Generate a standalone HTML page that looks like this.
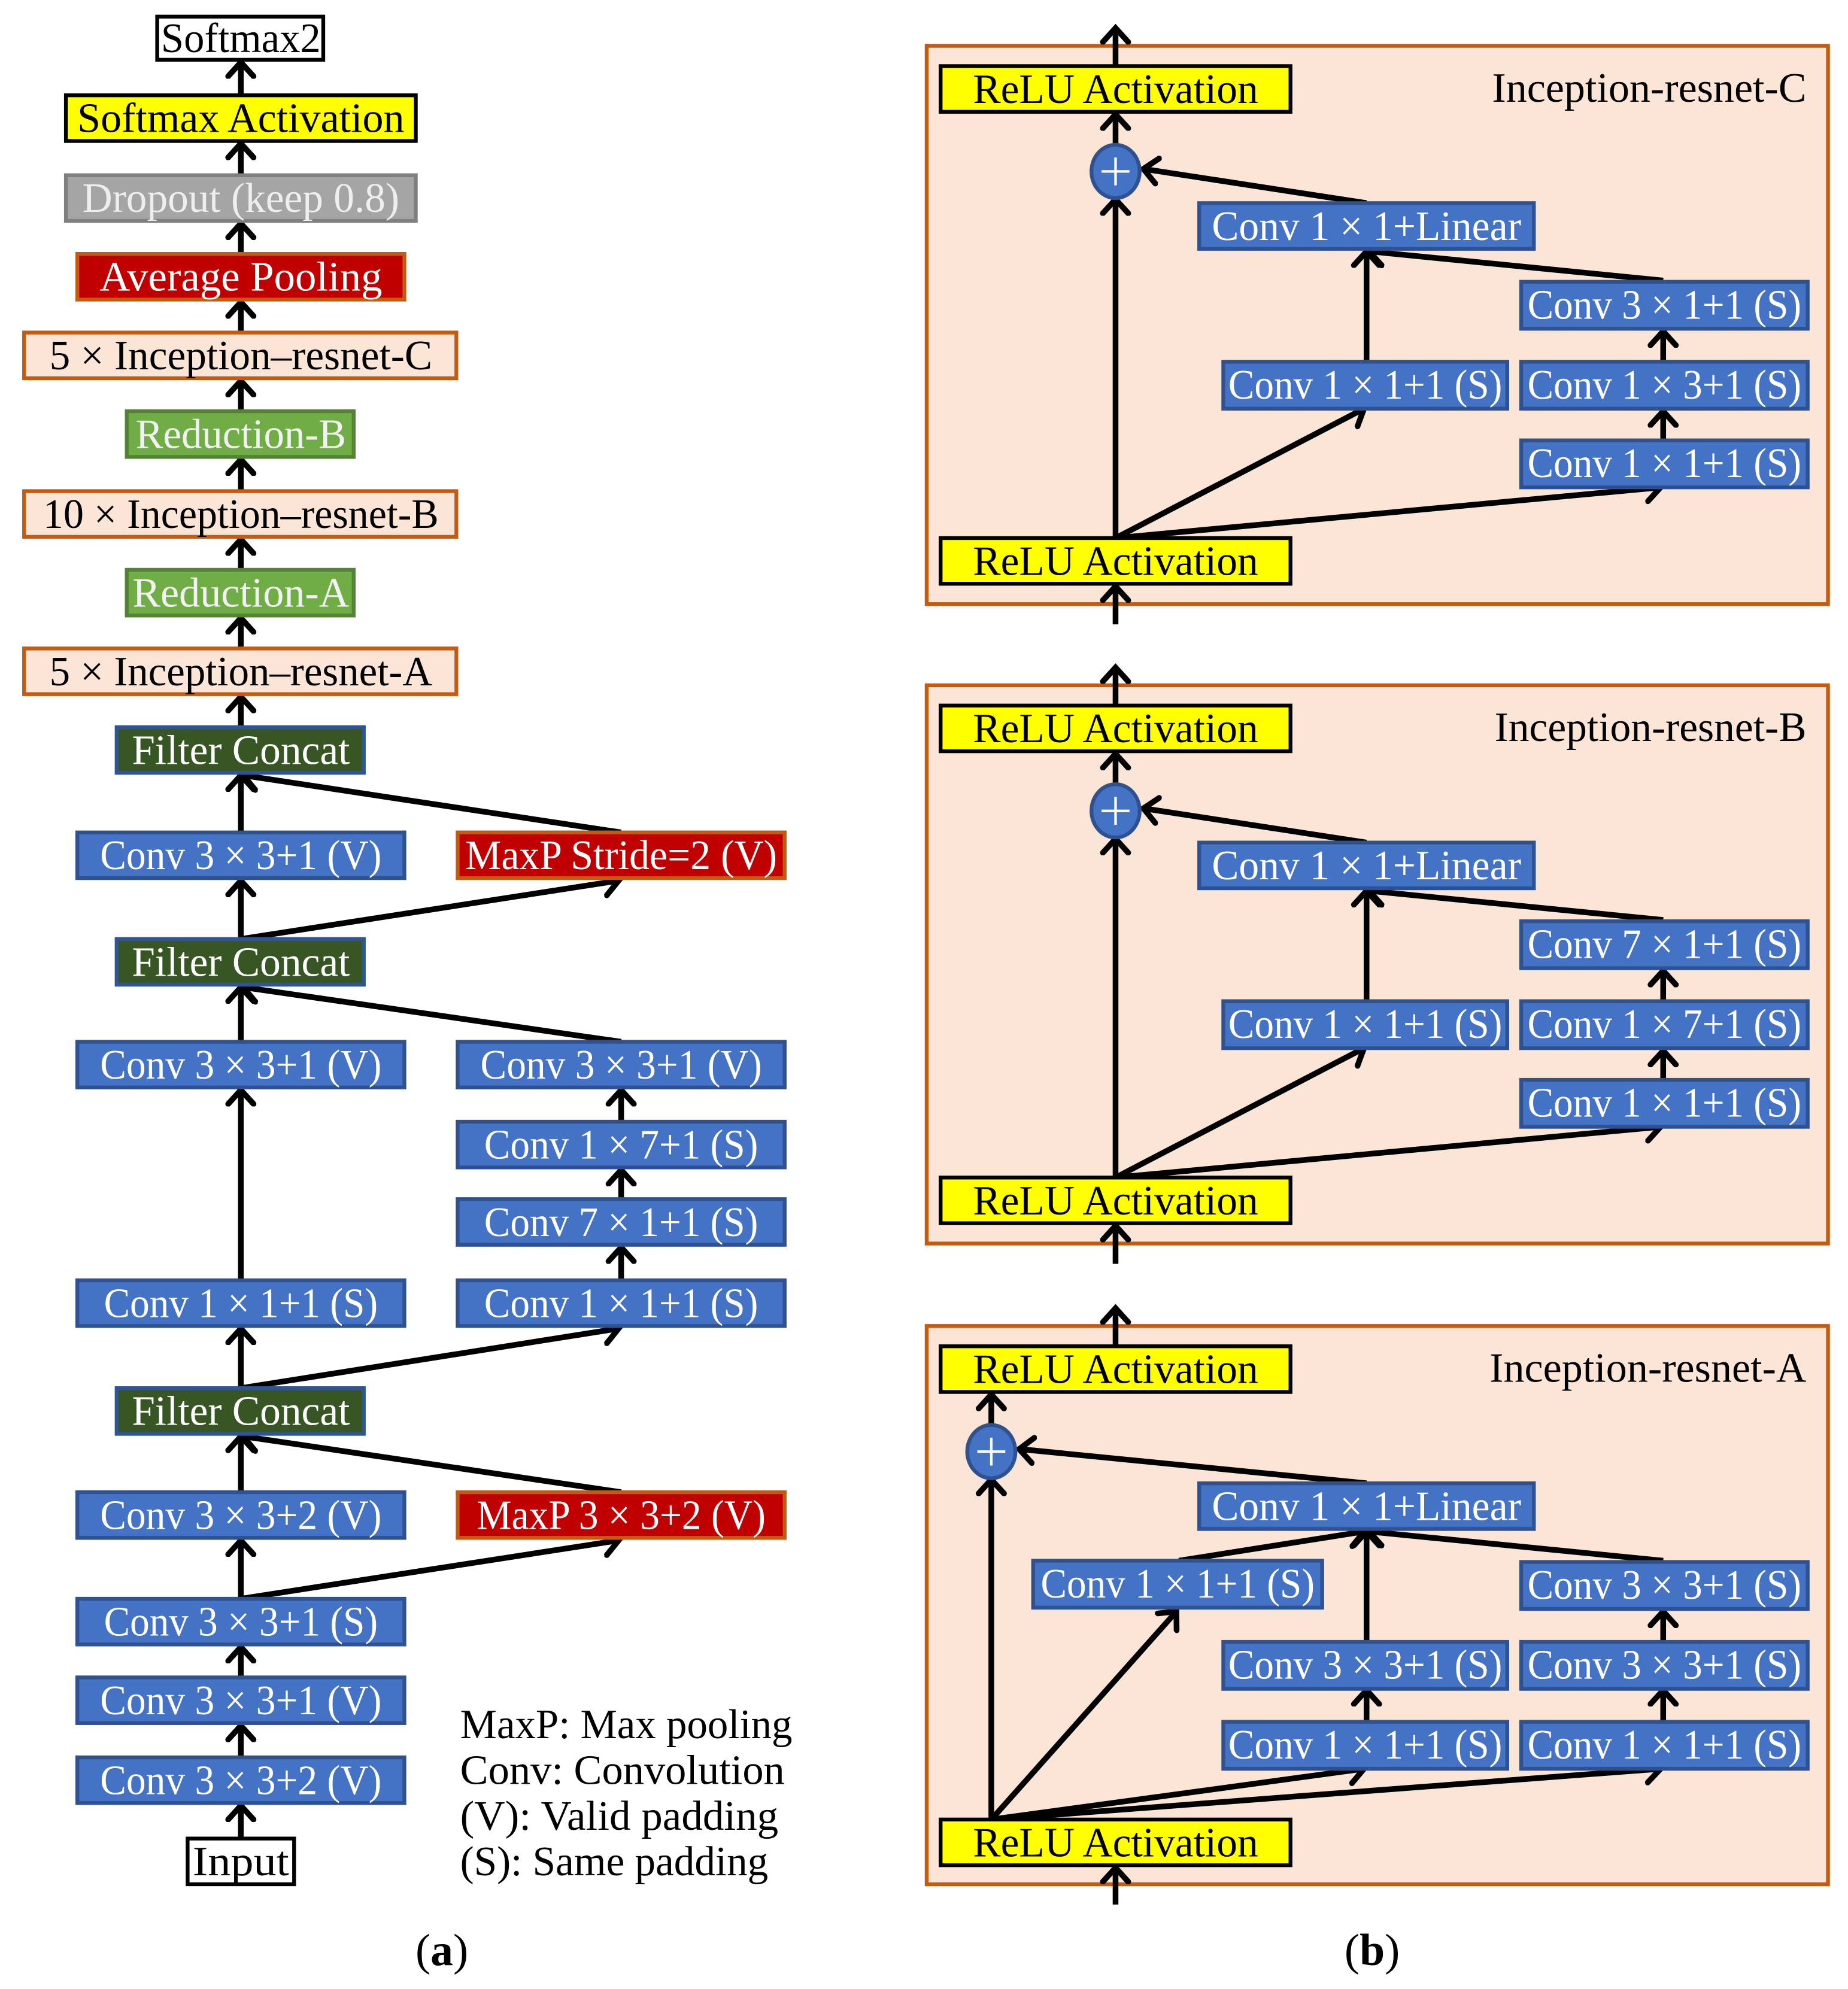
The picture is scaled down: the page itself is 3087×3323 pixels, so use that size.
<!DOCTYPE html>
<html><head><meta charset="utf-8"><style>
html,body{margin:0;padding:0;background:#fff;}
svg{display:block;}
text{font-family:"Liberation Serif",serif;font-size:33px;}
</style></head><body>
<svg width="3087" height="3323" viewBox="0 0 1468 1580" xmlns="http://www.w3.org/2000/svg">
<defs>
<marker id="a" markerUnits="userSpaceOnUse" markerWidth="26" markerHeight="26" refX="13" refY="13" orient="auto" viewBox="0 0 26 26">
<path d="M2,3 L13,13 L2,23" fill="none" stroke="#000" stroke-width="4.5" stroke-linecap="round" stroke-linejoin="miter"/>
</marker>
</defs>
<g transform="scale(1.007,1.008)">
<g id="panels">
<rect x="731" y="36" width="711" height="440" fill="#fbe5d6" stroke="#c55a11" stroke-width="3"/>
<rect x="731" y="540" width="711" height="440" fill="#fbe5d6" stroke="#c55a11" stroke-width="3"/>
<rect x="731" y="1045" width="711" height="440" fill="#fbe5d6" stroke="#c55a11" stroke-width="3"/>
</g>

<g stroke="#000" stroke-width="4.5" fill="none" marker-end="url(#a)">
<line x1="190" y1="75" x2="190" y2="49"/>
<line x1="190" y1="138" x2="190" y2="113"/>
<line x1="190" y1="200" x2="190" y2="176"/>
<line x1="190" y1="262" x2="190" y2="238"/>
<line x1="190" y1="324" x2="190" y2="300"/>
<line x1="190" y1="387" x2="190" y2="362"/>
<line x1="190" y1="449" x2="190" y2="425"/>
<line x1="190" y1="511" x2="190" y2="487"/>
<line x1="190" y1="573" x2="190" y2="549"/>
<line x1="190" y1="656" x2="190" y2="611"/>
<line x1="490" y1="656" x2="192" y2="611"/>
<line x1="190" y1="740" x2="190" y2="694"/>
<line x1="190" y1="740" x2="488" y2="694"/>
<line x1="190" y1="821" x2="190" y2="778"/>
<line x1="490" y1="821" x2="192" y2="778"/>
<line x1="190" y1="1009" x2="190" y2="859"/>
<line x1="490" y1="884" x2="490" y2="859"/>
<line x1="490" y1="945" x2="490" y2="922"/>
<line x1="490" y1="1009" x2="490" y2="983"/>
<line x1="190" y1="1094" x2="190" y2="1047"/>
<line x1="190" y1="1094" x2="488" y2="1047"/>
<line x1="190" y1="1176" x2="190" y2="1132"/>
<line x1="490" y1="1176" x2="192" y2="1132"/>
<line x1="190" y1="1260" x2="190" y2="1214"/>
<line x1="190" y1="1260" x2="488" y2="1214"/>
<line x1="190" y1="1322" x2="190" y2="1298"/>
<line x1="190" y1="1385" x2="190" y2="1360"/>
<line x1="190" y1="1449" x2="190" y2="1423"/>

<line x1="880" y1="52" x2="880" y2="22"/>
<line x1="880" y1="492" x2="880" y2="462"/>
<line x1="880" y1="115" x2="880" y2="90"/>
<line x1="880" y1="424" x2="880" y2="157"/>
<line x1="1078" y1="160" x2="902" y2="133"/>
<line x1="1078" y1="284" x2="1078" y2="198"/>
<line x1="1312" y1="221" x2="1080" y2="198"/>
<line x1="1312" y1="284" x2="1312" y2="261"/>
<line x1="1312" y1="346" x2="1312" y2="324"/>
<line x1="880" y1="424" x2="1076" y2="322"/>
<line x1="880" y1="424" x2="1310" y2="384"/>

<line x1="880" y1="556" x2="880" y2="526"/>
<line x1="880" y1="996" x2="880" y2="966"/>
<line x1="880" y1="619" x2="880" y2="594"/>
<line x1="880" y1="928" x2="880" y2="661"/>
<line x1="1078" y1="664" x2="902" y2="637"/>
<line x1="1078" y1="788" x2="1078" y2="702"/>
<line x1="1312" y1="725" x2="1080" y2="702"/>
<line x1="1312" y1="788" x2="1312" y2="765"/>
<line x1="1312" y1="850" x2="1312" y2="828"/>
<line x1="880" y1="928" x2="1076" y2="826"/>
<line x1="880" y1="928" x2="1310" y2="888"/>

<line x1="880" y1="1061" x2="880" y2="1031"/>
<line x1="880" y1="1501" x2="880" y2="1472"/>
<line x1="782" y1="1124" x2="782" y2="1099"/>
<line x1="782" y1="1434" x2="782" y2="1166"/>
<line x1="1078" y1="1169" x2="804" y2="1142"/>
<line x1="1078" y1="1294" x2="1078" y2="1207"/>
<line x1="930" y1="1230" x2="1076" y2="1207"/>
<line x1="1312" y1="1230" x2="1080" y2="1207"/>
<line x1="1312" y1="1294" x2="1312" y2="1270"/>
<line x1="1312" y1="1356" x2="1312" y2="1332"/>
<line x1="1078" y1="1356" x2="1078" y2="1332"/>
<line x1="782" y1="1434" x2="928" y2="1270"/>
<line x1="782" y1="1434" x2="1076" y2="1394"/>
<line x1="782" y1="1434" x2="1310" y2="1394"/>
</g>

<g stroke-width="3">
<rect x="124" y="13" width="131" height="34" fill="#fff" stroke="#000"/>
<rect x="52" y="75" width="276" height="36" fill="#ffff00" stroke="#000"/>
<rect x="52" y="138" width="276" height="36" fill="#a5a5a5" stroke="#7f7f7f"/>
<rect x="61" y="200" width="258" height="36" fill="#c00000" stroke="#c55a11"/>
<rect x="19" y="262" width="341" height="36" fill="#fbe5d6" stroke="#c55a11"/>
<rect x="100" y="324" width="179" height="36" fill="#70ad47" stroke="#548235"/>
<rect x="19" y="387" width="341" height="36" fill="#fbe5d6" stroke="#c55a11"/>
<rect x="100" y="449" width="179" height="36" fill="#70ad47" stroke="#548235"/>
<rect x="19" y="511" width="341" height="36" fill="#fbe5d6" stroke="#c55a11"/>
<rect x="92" y="573" width="195" height="36" fill="#375623" stroke="#2f5597"/>
<rect x="61" y="656" width="258" height="36" fill="#4472c4" stroke="#2f528f"/>
<rect x="361" y="656" width="258" height="36" fill="#c00000" stroke="#c55a11"/>
<rect x="92" y="740" width="195" height="36" fill="#375623" stroke="#2f5597"/>
<rect x="61" y="821" width="258" height="36" fill="#4472c4" stroke="#2f528f"/>
<rect x="361" y="821" width="258" height="36" fill="#4472c4" stroke="#2f528f"/>
<rect x="361" y="884" width="258" height="36" fill="#4472c4" stroke="#2f528f"/>
<rect x="361" y="945" width="258" height="36" fill="#4472c4" stroke="#2f528f"/>
<rect x="61" y="1009" width="258" height="36" fill="#4472c4" stroke="#2f528f"/>
<rect x="361" y="1009" width="258" height="36" fill="#4472c4" stroke="#2f528f"/>
<rect x="92" y="1094" width="195" height="36" fill="#375623" stroke="#2f5597"/>
<rect x="61" y="1176" width="258" height="36" fill="#4472c4" stroke="#2f528f"/>
<rect x="361" y="1176" width="258" height="36" fill="#c00000" stroke="#c55a11"/>
<rect x="61" y="1260" width="258" height="36" fill="#4472c4" stroke="#2f528f"/>
<rect x="61" y="1322" width="258" height="36" fill="#4472c4" stroke="#2f528f"/>
<rect x="61" y="1385" width="258" height="36" fill="#4472c4" stroke="#2f528f"/>
<rect x="148" y="1449" width="84" height="36" fill="#fff" stroke="#000"/>
</g>

<g text-anchor="middle">
<text x="190" y="41" textLength="126" lengthAdjust="spacingAndGlyphs">Softmax2</text>
<text x="190" y="104" textLength="258" lengthAdjust="spacingAndGlyphs">Softmax Activation</text>
<text x="190" y="167" textLength="250" lengthAdjust="spacingAndGlyphs" fill="#eeeeee">Dropout (keep 0.8)</text>
<text x="190" y="229" textLength="223" lengthAdjust="spacingAndGlyphs" fill="#fff">Average Pooling</text>
<text x="190" y="291" textLength="302" lengthAdjust="spacingAndGlyphs">5 × Inception–resnet-C</text>
<text x="190" y="353" textLength="166" lengthAdjust="spacingAndGlyphs" fill="#f2f2f2">Reduction-B</text>
<text x="190" y="416" textLength="312" lengthAdjust="spacingAndGlyphs">10 × Inception–resnet-B</text>
<text x="190" y="478" textLength="171" lengthAdjust="spacingAndGlyphs" fill="#f2f2f2">Reduction-A</text>
<text x="190" y="540" textLength="302" lengthAdjust="spacingAndGlyphs">5 × Inception–resnet-A</text>
<g fill="#fff">
<text x="190" y="602" textLength="172" lengthAdjust="spacingAndGlyphs">Filter Concat</text>
<text x="190" y="685" textLength="222" lengthAdjust="spacingAndGlyphs">Conv 3 × 3+1 (V)</text>
<text x="490" y="685" textLength="246" lengthAdjust="spacingAndGlyphs">MaxP Stride=2 (V)</text>
<text x="190" y="769" textLength="172" lengthAdjust="spacingAndGlyphs">Filter Concat</text>
<text x="190" y="850" textLength="222" lengthAdjust="spacingAndGlyphs">Conv 3 × 3+1 (V)</text>
<text x="490" y="850" textLength="222" lengthAdjust="spacingAndGlyphs">Conv 3 × 3+1 (V)</text>
<text x="490" y="913" textLength="216" lengthAdjust="spacingAndGlyphs">Conv 1 × 7+1 (S)</text>
<text x="490" y="974" textLength="216" lengthAdjust="spacingAndGlyphs">Conv 7 × 1+1 (S)</text>
<text x="190" y="1038" textLength="216" lengthAdjust="spacingAndGlyphs">Conv 1 × 1+1 (S)</text>
<text x="490" y="1038" textLength="216" lengthAdjust="spacingAndGlyphs">Conv 1 × 1+1 (S)</text>
<text x="190" y="1123" textLength="172" lengthAdjust="spacingAndGlyphs">Filter Concat</text>
<text x="190" y="1205" textLength="222" lengthAdjust="spacingAndGlyphs">Conv 3 × 3+2 (V)</text>
<text x="490" y="1205" textLength="228" lengthAdjust="spacingAndGlyphs">MaxP 3 × 3+2 (V)</text>
<text x="190" y="1289" textLength="216" lengthAdjust="spacingAndGlyphs">Conv 3 × 3+1 (S)</text>
<text x="190" y="1351" textLength="222" lengthAdjust="spacingAndGlyphs">Conv 3 × 3+1 (V)</text>
<text x="190" y="1414" textLength="222" lengthAdjust="spacingAndGlyphs">Conv 3 × 3+2 (V)</text>
</g>
<text x="190" y="1478" textLength="76" lengthAdjust="spacingAndGlyphs">Input</text>
</g>
<g text-anchor="start">
<text x="363" y="1370" textLength="262" lengthAdjust="spacingAndGlyphs">MaxP: Max pooling</text>
<text x="363" y="1406" textLength="256" lengthAdjust="spacingAndGlyphs">Conv: Convolution</text>
<text x="363" y="1442" textLength="251" lengthAdjust="spacingAndGlyphs">(V): Valid padding</text>
<text x="363" y="1478" textLength="243" lengthAdjust="spacingAndGlyphs">(S): Same padding</text>
</g>

<g stroke-width="3">
<rect x="742" y="52" width="276" height="36" fill="#ffff00" stroke="#000"/>
<rect x="742" y="424" width="276" height="36" fill="#ffff00" stroke="#000"/>
<rect x="946" y="160" width="264" height="36" fill="#4472c4" stroke="#2f528f"/>
<rect x="1200" y="222" width="226" height="37" fill="#4472c4" stroke="#2f528f"/>
<rect x="965" y="285" width="224" height="37" fill="#4472c4" stroke="#2f528f"/>
<rect x="1200" y="285" width="226" height="37" fill="#4472c4" stroke="#2f528f"/>
<rect x="1200" y="347" width="226" height="37" fill="#4472c4" stroke="#2f528f"/>
<ellipse cx="880" cy="135" rx="19" ry="21" fill="#4472c4" stroke="#2f528f"/>
<rect x="742" y="556" width="276" height="36" fill="#ffff00" stroke="#000"/>
<rect x="742" y="928" width="276" height="36" fill="#ffff00" stroke="#000"/>
<rect x="946" y="664" width="264" height="36" fill="#4472c4" stroke="#2f528f"/>
<rect x="1200" y="726" width="226" height="37" fill="#4472c4" stroke="#2f528f"/>
<rect x="965" y="789" width="224" height="37" fill="#4472c4" stroke="#2f528f"/>
<rect x="1200" y="789" width="226" height="37" fill="#4472c4" stroke="#2f528f"/>
<rect x="1200" y="851" width="226" height="37" fill="#4472c4" stroke="#2f528f"/>
<ellipse cx="880" cy="639" rx="19" ry="21" fill="#4472c4" stroke="#2f528f"/>
<rect x="742" y="1061" width="276" height="36" fill="#ffff00" stroke="#000"/>
<rect x="742" y="1434" width="276" height="36" fill="#ffff00" stroke="#000"/>
<rect x="946" y="1169" width="264" height="36" fill="#4472c4" stroke="#2f528f"/>
<rect x="815" y="1230" width="228" height="37" fill="#4472c4" stroke="#2f528f"/>
<rect x="1200" y="1231" width="226" height="37" fill="#4472c4" stroke="#2f528f"/>
<rect x="965" y="1294" width="224" height="37" fill="#4472c4" stroke="#2f528f"/>
<rect x="1200" y="1294" width="226" height="37" fill="#4472c4" stroke="#2f528f"/>
<rect x="965" y="1357" width="224" height="37" fill="#4472c4" stroke="#2f528f"/>
<rect x="1200" y="1357" width="226" height="37" fill="#4472c4" stroke="#2f528f"/>
<ellipse cx="782" cy="1144" rx="19" ry="21" fill="#4472c4" stroke="#2f528f"/>
</g>
<g stroke="#fff" stroke-width="2">
<path d="M869,135 H891 M880,124 V146"/>
<path d="M869,639 H891 M880,628 V650"/>
<path d="M771,1144 H793 M782,1133 V1155"/>
</g>

<g text-anchor="middle">
<text x="880" y="81" textLength="225" lengthAdjust="spacingAndGlyphs">ReLU Activation</text>
<text x="880" y="453" textLength="225" lengthAdjust="spacingAndGlyphs">ReLU Activation</text>
<text x="880" y="585" textLength="225" lengthAdjust="spacingAndGlyphs">ReLU Activation</text>
<text x="880" y="957" textLength="225" lengthAdjust="spacingAndGlyphs">ReLU Activation</text>
<text x="880" y="1090" textLength="225" lengthAdjust="spacingAndGlyphs">ReLU Activation</text>
<text x="880" y="1463" textLength="225" lengthAdjust="spacingAndGlyphs">ReLU Activation</text>
<g fill="#fff">
<text x="1078" y="189" textLength="244" lengthAdjust="spacingAndGlyphs">Conv 1 × 1+Linear</text>
<text x="1313" y="251" textLength="216" lengthAdjust="spacingAndGlyphs">Conv 3 × 1+1 (S)</text>
<text x="1077" y="314" textLength="216" lengthAdjust="spacingAndGlyphs">Conv 1 × 1+1 (S)</text>
<text x="1313" y="314" textLength="216" lengthAdjust="spacingAndGlyphs">Conv 1 × 3+1 (S)</text>
<text x="1313" y="376" textLength="216" lengthAdjust="spacingAndGlyphs">Conv 1 × 1+1 (S)</text>
<text x="1078" y="693" textLength="244" lengthAdjust="spacingAndGlyphs">Conv 1 × 1+Linear</text>
<text x="1313" y="755" textLength="216" lengthAdjust="spacingAndGlyphs">Conv 7 × 1+1 (S)</text>
<text x="1077" y="818" textLength="216" lengthAdjust="spacingAndGlyphs">Conv 1 × 1+1 (S)</text>
<text x="1313" y="818" textLength="216" lengthAdjust="spacingAndGlyphs">Conv 1 × 7+1 (S)</text>
<text x="1313" y="880" textLength="216" lengthAdjust="spacingAndGlyphs">Conv 1 × 1+1 (S)</text>
<text x="1078" y="1198" textLength="244" lengthAdjust="spacingAndGlyphs">Conv 1 × 1+Linear</text>
<text x="929" y="1259" textLength="216" lengthAdjust="spacingAndGlyphs">Conv 1 × 1+1 (S)</text>
<text x="1313" y="1260" textLength="216" lengthAdjust="spacingAndGlyphs">Conv 3 × 3+1 (S)</text>
<text x="1077" y="1323" textLength="216" lengthAdjust="spacingAndGlyphs">Conv 3 × 3+1 (S)</text>
<text x="1313" y="1323" textLength="216" lengthAdjust="spacingAndGlyphs">Conv 3 × 3+1 (S)</text>
<text x="1077" y="1386" textLength="216" lengthAdjust="spacingAndGlyphs">Conv 1 × 1+1 (S)</text>
<text x="1313" y="1386" textLength="216" lengthAdjust="spacingAndGlyphs">Conv 1 × 1+1 (S)</text>
</g>
</g>
<g text-anchor="end">
<text x="1425" y="80" textLength="248" lengthAdjust="spacingAndGlyphs">Inception-resnet-C</text>
<text x="1425" y="584" textLength="246" lengthAdjust="spacingAndGlyphs">Inception-resnet-B</text>
<text x="1425" y="1089" textLength="250" lengthAdjust="spacingAndGlyphs">Inception-resnet-A</text>
</g>
</g>
<text x="351" y="1561" text-anchor="middle" style="font-size:36px">(<tspan font-weight="bold">a</tspan>)</text>
<text x="1090" y="1561" text-anchor="middle" style="font-size:36px">(<tspan font-weight="bold">b</tspan>)</text>
</svg>
</body></html>
